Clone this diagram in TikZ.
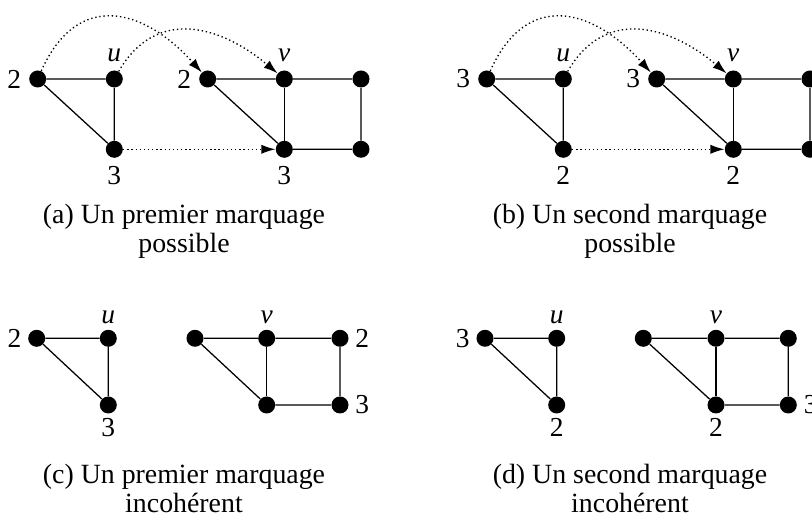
\documentclass[tikz,border=0pt]{standalone}
\usepackage{fontspec}
\setmainfont{Liberation Serif}
\usetikzlibrary{arrows.meta}
\tikzset{
  sommet/.style={circle, fill=black, inner sep=0pt, minimum size=0.425cm},
  arete/.style={line width=0.9pt},
  report/.style={dotted, line width=0.95pt, -{Latex[length=10pt,width=6.5pt]}},
  etiq/.style={inner sep=0pt, label distance=0.19cm, font=\fontsize{19.5}{19.5}\selectfont},
  legende/.style={align=center, anchor=base, font=\fontsize{19.8}{21.3}\selectfont},
}
\begin{document}
\begin{tikzpicture}[x=0.025cm, y=0.025cm]
    \useasboundingbox (0,0) rectangle (812,518);
    \clip (0,0) rectangle (812,518);
    % (a) premier marquage possible
    \node[sommet, label={[etiq]left:2}] (a1) at (37.7,439) {};
    \node[sommet, label={[etiq, label distance=0.21cm]above:\textit{u}}] (a2) at (114.3,439) {};
    \node[sommet, label={[etiq]below:3}] (a3) at (114.3,368.7) {};
    \node[sommet, label={[etiq]left:2}] (a4) at (207.7,439) {};
    \node[sommet, label={[etiq, label distance=0.21cm]above:\textit{v}}] (a5) at (284.3,439) {};
    \node[sommet] (a6) at (361,439) {};
    \node[sommet, label={[etiq]below:3}] (a7) at (284.3,368.7) {};
    \node[sommet] (a8) at (361,368.7) {};
    \draw[arete] (a1) -- (a2) -- (a3) -- (a1);
    \draw[arete] (a4) -- (a5) -- (a6) -- (a8) -- (a7) -- (a4);
    \draw[arete] (a5) -- (a7);
    \draw[report] (a1) to[out=66, in=132, looseness=1.4] (a4);
    \draw[report] (a2) to[out=60, in=140, looseness=1.2] (a5);
    \draw[report] (a3) -- (a7);
    \node[legende] (la) at (184,265) {(a) Un premier marquage\\possible};
    % (b) second marquage possible
    \node[sommet, label={[etiq]left:3}] (b1) at (486.7,439) {};
    \node[sommet, label={[etiq, label distance=0.21cm]above:\textit{u}}] (b2) at (563.3,439) {};
    \node[sommet, label={[etiq]below:2}] (b3) at (563.3,368.7) {};
    \node[sommet, label={[etiq]left:3}] (b4) at (656.7,439) {};
    \node[sommet, label={[etiq, label distance=0.21cm]above:\textit{v}}] (b5) at (733.3,439) {};
    \node[sommet] (b6) at (810,439) {};
    \node[sommet, label={[etiq]below:2}] (b7) at (733.3,368.7) {};
    \node[sommet] (b8) at (810,368.7) {};
    \draw[arete] (b1) -- (b2) -- (b3) -- (b1);
    \draw[arete] (b4) -- (b5) -- (b6) -- (b8) -- (b7) -- (b4);
    \draw[arete] (b5) -- (b7);
    \draw[report] (b1) to[out=66, in=132, looseness=1.4] (b4);
    \draw[report] (b2) to[out=60, in=140, looseness=1.2] (b5);
    \draw[report] (b3) -- (b7);
    \node[legende] (lb) at (630,265) {(b) Un second marquage\\possible};
    % (c) premier marquage incoherent
    \node[sommet, label={[etiq, label distance=0.16cm]left:2}] (c1) at (36.7,179.7) {};
    \node[sommet, label={[etiq, label distance=0.14cm]above:\textit{u}}] (c2) at (108.3,179.7) {};
    \node[sommet, label={[etiq, label distance=0.11cm]below:3}] (c3) at (108.3,113) {};
    \node[sommet] (c4) at (195,179.7) {};
    \node[sommet, label={[etiq, label distance=0.14cm]above:\textit{v}}] (c5) at (266.7,179.7) {};
    \node[sommet, label={[etiq, label distance=0.16cm]right:2}] (c6) at (340,179.7) {};
    \node[sommet] (c7) at (266.7,113) {};
    \node[sommet, label={[etiq, label distance=0.16cm]right:3}] (c8) at (340,113) {};
    \draw[arete] (c1) -- (c2) -- (c3) -- (c1);
    \draw[arete] (c4) -- (c5) -- (c6) -- (c8) -- (c7) -- (c4);
    \draw[arete] (c5) -- (c7);
    \node[legende] (lc) at (184,5) {(c) Un premier marquage\\incohérent};
    % (d) second marquage incoherent
    \node[sommet, label={[etiq, label distance=0.16cm]left:3}] (d1) at (485,179.7) {};
    \node[sommet, label={[etiq, label distance=0.14cm]above:\textit{u}}] (d2) at (556.7,179.7) {};
    \node[sommet, label={[etiq, label distance=0.11cm]below:2}] (d3) at (556.7,113) {};
    \node[sommet] (d4) at (643.3,179.7) {};
    \node[sommet, label={[etiq, label distance=0.14cm]above:\textit{v}}] (d5) at (716,179.7) {};
    \node[sommet] (d6) at (788.3,179.7) {};
    \node[sommet, label={[etiq, label distance=0.11cm]below:2}] (d7) at (716,113) {};
    \node[sommet, label={[etiq, label distance=0.16cm]right:3}] (d8) at (788.3,113) {};
    \draw[arete] (d1) -- (d2) -- (d3) -- (d1);
    \draw[arete] (d4) -- (d5) -- (d6) -- (d8) -- (d7) -- (d4);
    \draw[arete] (d5) -- (d7);
    \node[legende] (ld) at (630,5) {(d) Un second marquage\\incohérent};
\end{tikzpicture}
\end{document}
